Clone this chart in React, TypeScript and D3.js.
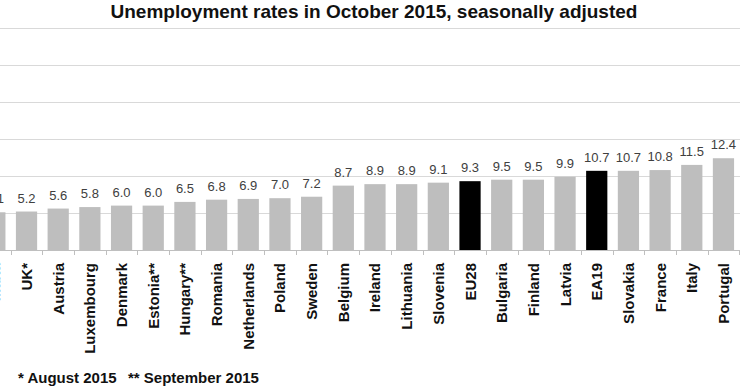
import React, { useEffect, useRef } from 'react';
import * as d3 from 'd3';

const countries = [
  'Malta', 'UK*', 'Austria', 'Luxembourg', 'Denmark', 'Estonia**', 'Hungary**', 'Romania',
  'Netherlands', 'Poland', 'Sweden', 'Belgium', 'Ireland', 'Lithuania', 'Slovenia', 'EU28',
  'Bulgaria', 'Finland', 'Latvia', 'EA19', 'Slovakia', 'France', 'Italy', 'Portugal',
];
const rates = [
  5.1, 5.2, 5.6, 5.8, 6.0, 6.0, 6.5, 6.8,
  6.9, 7.0, 7.2, 8.7, 8.9, 8.9, 9.1, 9.3,
  9.5, 9.5, 9.9, 10.7, 10.7, 10.8, 11.5, 12.4,
];
const aggregates = ['EU28', 'EA19'];
const gridValues = [0, 5, 10, 15, 20, 25, 30];
const title = 'Unemployment rates in October 2015, seasonally adjusted';
const footnotes = ['* August 2015', '** September 2015'];

const App: React.FC = () => {
  const ref = useRef<SVGSVGElement | null>(null);
  const width = 740;
  const height = 389;
  // the picture is a crop: the band range starts left of the frame
  const plot = { left: -21, right: 739.3, top: 28, bottom: 250 };

  useEffect(() => {
    if (!ref.current) return;
    const svg = d3.select(ref.current);
    svg.selectAll('*').remove();

    const data = countries.map((c, i) => ({ country: c, value: rates[i] }));

    const x = d3.scaleBand<string>()
      .domain(countries)
      .range([plot.left, plot.right])
      .paddingInner(0.33)
      .paddingOuter(0.165);

    const y = d3.scaleLinear()
      .domain([0, 30])
      .range([plot.bottom, plot.top]);

    // gridlines
    svg.append('g')
      .selectAll('line')
      .data(gridValues.slice(1))
      .join('line')
        .attr('x1', 0)
        .attr('x2', width)
        .attr('y1', d => Math.round(y(d)) + 0.5)
        .attr('y2', d => Math.round(y(d)) + 0.5)
        .attr('stroke', '#d9d9d9')
        .attr('stroke-width', 1);

    // bars
    svg.append('g')
      .selectAll('rect')
      .data(data)
      .join('rect')
        .attr('x', d => x(d.country)!)
        .attr('y', d => y(d.value))
        .attr('width', x.bandwidth())
        .attr('height', d => y(0) - y(d.value))
        .attr('fill', d => aggregates.includes(d.country) ? '#000000' : '#bebebe');

    // value labels
    svg.append('g')
      .selectAll('text')
      .data(data)
      .join('text')
        .attr('x', d => x(d.country)! + x.bandwidth() / 2)
        .attr('y', d => y(d.value) - 9)
        .attr('text-anchor', 'middle')
        .style('font-family', '"Liberation Sans", Arial, sans-serif')
        .style('font-size', '13px')
        .attr('fill', '#404040')
        .text(d => d.value.toFixed(1));

    // category axis
    const step = x.step();
    const axis = svg.append('g');
    axis.append('line')
      .attr('x1', 0)
      .attr('x2', width)
      .attr('y1', plot.bottom + 0.5)
      .attr('y2', plot.bottom + 0.5)
      .attr('stroke', '#bfbfbf');
    axis.selectAll('line.tick')
      .data(d3.range(countries.length + 1))
      .join('line')
        .attr('class', 'tick')
        .attr('x1', i => Math.round(plot.left + i * step) + 0.5)
        .attr('x2', i => Math.round(plot.left + i * step) + 0.5)
        .attr('y1', plot.bottom)
        .attr('y2', plot.bottom + 5)
        .attr('stroke', '#bfbfbf');

    axis.selectAll('text')
      .data(countries)
      .join('text')
        .attr('transform', d => `translate(${x(d)! + x.bandwidth() / 2 + 5.5},${plot.bottom + 13}) rotate(-90)`)
        .attr('text-anchor', 'end')
        .style('font-family', '"Liberation Sans", Arial, sans-serif')
        .style('font-size', '15px')
        .style('font-weight', 'bold')
        .attr('fill', '#111111')
        .text(d => d);

    // title
    svg.append('text')
      .attr('x', 374)
      .attr('y', 18)
      .attr('text-anchor', 'middle')
      .style('font-family', '"Liberation Sans", Arial, sans-serif')
      .style('font-size', '19px')
      .style('font-weight', 'bold')
      .attr('fill', '#111111')
      .text(title);

    // footnotes
    svg.append('g')
      .selectAll('text')
      .data(footnotes)
      .join('text')
        .attr('x', (_, i) => (i === 0 ? 18 : 128))
        .attr('y', 383)
        .style('font-family', '"Liberation Sans", Arial, sans-serif')
        .style('font-size', '15px')
        .style('font-weight', 'bold')
        .attr('fill', '#111111')
        .text(d => d);
  }, []);

  return (
    <svg
      ref={ref}
      width={width}
      height={height}
      style={{ position: 'absolute', left: 0, top: 0, background: '#ffffff' }}
    />
  );
};

export default App;
